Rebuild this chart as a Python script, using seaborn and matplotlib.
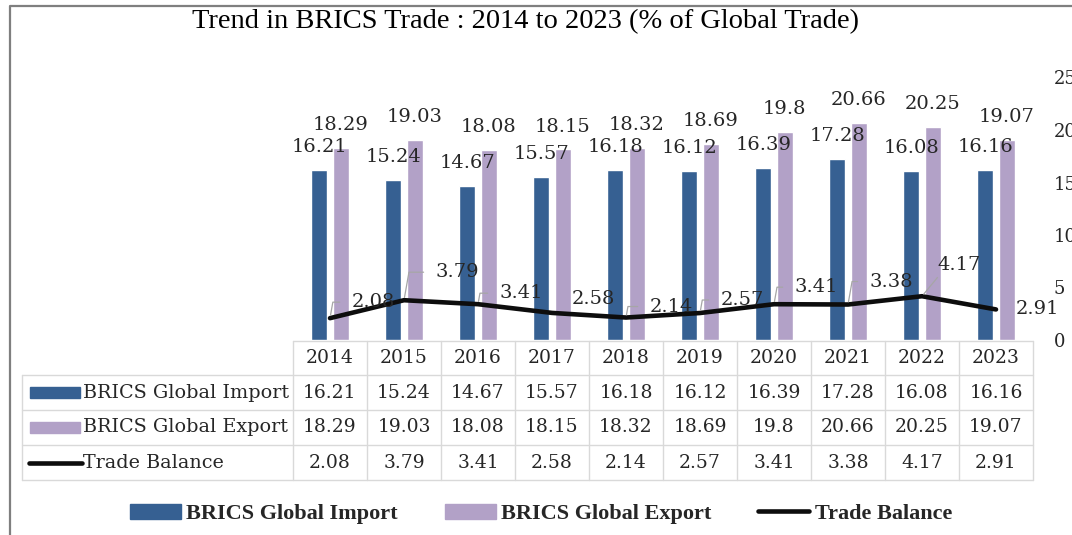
import numpy as np
import pandas as pd
import matplotlib
matplotlib.use("Agg")
import matplotlib.pyplot as plt
import seaborn as sns
from matplotlib.patches import Patch, Rectangle
from matplotlib.lines import Line2D

# ---- data ----
years = ["2014", "2015", "2016", "2017", "2018", "2019", "2020", "2021", "2022", "2023"]
imports = [16.21, 15.24, 14.67, 15.57, 16.18, 16.12, 16.39, 17.28, 16.08, 16.16]
exports = [18.29, 19.03, 18.08, 18.15, 18.32, 18.69, 19.8, 20.66, 20.25, 19.07]
balance = [2.08, 3.79, 3.41, 2.58, 2.14, 2.57, 3.41, 3.38, 4.17, 2.91]
series_names = ["BRICS Global Import", "BRICS Global Export", "Trade Balance"]
y_ticks = [0, 5, 10, 15, 20, 25]
title = "Trend in BRICS Trade : 2014 to 2023 (% of Global Trade)"

# label placement for the trade balance labels (pixel offsets, leader line on/off)
bal_offsets = [(43, 16), (53, 28), (43, 11), (41, 14), (45, 11),
               (42, 13), (42, 17), (43, 23), (37, 31), (41, 0)]
bal_leader = [True, True, True, False, True, True, True, True, "straight", False]

C_IMP = "#366092"
C_EXP = "#b2a1c7"
C_BAL = "#0d0d0d"
GRID = "#d9d9d9"
NUM_FONT = "DejaVu Serif"

W, H = 1072, 535
def fx(x):
    return x / W
def fy(y):
    return 1 - y / H

sns.set_style("white")
fig = plt.figure(figsize=(W / 100, H / 100), dpi=100)

# main plot area, aligned with the data table columns
col_l, col_r = 293, 1033
ax = fig.add_axes([fx(col_l), fy(340), fx(col_r) - fx(col_l), fy(77.5) - fy(340)])

df = pd.DataFrame({
    "Year": years * 2,
    "Share": imports + exports,
    "Series": [series_names[0]] * len(years) + [series_names[1]] * len(years),
})
sns.barplot(data=df, x="Year", y="Share", hue="Series", palette=[C_IMP, C_EXP],
            width=0.58, gap=0.25, saturation=1, legend=False, ax=ax)
sns.lineplot(x=np.arange(len(years)), y=balance, color=C_BAL, lw=3.3, ax=ax,
             legend=False)

for cont in ax.containers:
    ax.bar_label(cont, labels=[f"{b.get_height():g}" for b in cont], padding=10,
                 fontsize=14, family=NUM_FONT, color="#262626")

# trade balance labels with excel-style leader lines
for i, v in enumerate(balance):
    dx, dy = bal_offsets[i]
    props = None
    if bal_leader[i] == "straight":
        props = dict(arrowstyle="-", color="#a6a6a6", lw=0.9, relpos=(0.1, 0.1),
                     shrinkA=0, shrinkB=2)
    elif bal_leader[i]:
        props = dict(arrowstyle="-", color="#a6a6a6", lw=0.9, relpos=(0, 0.5),
                     shrinkA=6, shrinkB=2,
                     connectionstyle="angle,angleA=0,angleB=80,rad=0")
    ax.annotate(f"{v:g}", xy=(i, v), xytext=(dx * 0.72, dy * 0.72),
                textcoords="offset points", ha="center", va="center",
                fontsize=14, family=NUM_FONT, color="#262626", arrowprops=props)

ax.set_xlim(-0.5, len(years) - 0.5)
ax.set_ylim(0, 25)
ax.set_yticks(y_ticks)
ax.yaxis.tick_right()
ax.tick_params(axis="y", length=0, pad=15, labelsize=13, labelcolor="#262626")
for lab in ax.get_yticklabels():
    lab.set_family(NUM_FONT)
ax.set_xticks([])
ax.set_xlabel("")
ax.set_ylabel("")
sns.despine(ax=ax, left=True, bottom=True, right=True, top=True)

# ---- data table under the plot ----
lab_l = 22
rows = [341, 375, 410, 445, 480]
col_w = (col_r - col_l) / len(years)

def hline(y, x0, x1):
    fig.add_artist(Line2D([fx(x0), fx(x1)], [fy(y), fy(y)], color=GRID, lw=1,
                          transform=fig.transFigure))

def vline(x, y0, y1):
    fig.add_artist(Line2D([fx(x), fx(x)], [fy(y0), fy(y1)], color=GRID, lw=1,
                          transform=fig.transFigure))

hline(rows[0], col_l, col_r)
for y in rows[1:]:
    hline(y, lab_l, col_r)
vline(lab_l, rows[1], rows[-1])
for k in range(len(years) + 1):
    vline(col_l + k * col_w, rows[0], rows[-1])

cell_kw = dict(ha="center", va="center", fontsize=13.5, family=NUM_FONT,
               color="#262626", transform=fig.transFigure)
table_rows = [years, imports, exports, balance]
for r, vals in enumerate(table_rows):
    yc = (rows[r] + rows[r + 1]) / 2
    for k, v in enumerate(vals):
        txt = v if isinstance(v, str) else f"{v:g}"
        fig.text(fx(col_l + (k + 0.5) * col_w), fy(yc), txt, **cell_kw)

for r, name in enumerate(series_names):
    yc = (rows[r + 1] + rows[r + 2]) / 2
    fig.text(fx(83), fy(yc), name, ha="left", va="center", fontsize=13.8,
             family=NUM_FONT, color="#262626", transform=fig.transFigure)
    if r < 2:
        fig.add_artist(Rectangle((fx(30), fy(yc + 5.5)), fx(80) - fx(30), 11 / H,
                                 color=[C_IMP, C_EXP][r], transform=fig.transFigure))
    else:
        fig.add_artist(Line2D([fx(29), fx(82)], [fy(yc), fy(yc)], color=C_BAL,
                              lw=3.3, transform=fig.transFigure))

# ---- bottom legend ----
handles = [Patch(color=C_IMP), Patch(color=C_EXP), Line2D([], [], color=C_BAL, lw=3.3)]
fig.legend(handles, series_names, loc="center", bbox_to_anchor=(fx(541), fy(514)),
           ncol=3, frameon=False, handlelength=2.3, handletextpad=0.25,
           columnspacing=2.1,
           prop=dict(family="Liberation Serif", weight="bold", size=16))

# ---- title and chart frame ----
fig.text(fx(525), fy(22), title, ha="center", va="center", fontsize=20.5,
         family="Liberation Serif", color="black")
fig.add_artist(Line2D([fx(10), fx(10), 1], [0, fy(6), fy(6)], color="#7f7f7f",
                      lw=1.6, transform=fig.transFigure))

fig.savefig("out.png", dpi=100)
